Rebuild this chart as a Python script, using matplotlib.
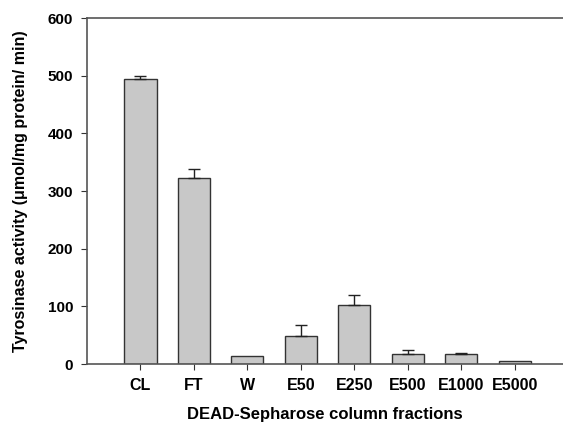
# bar chart of tyrosinase activity across DEAE-Sepharose column fractions
import matplotlib.pyplot as plt
import numpy as np

fractions = ["CL", "FT", "W", "E50", "E250", "E500", "E1000", "E5000"]
activity = [495, 323, 14, 49, 102, 17, 17, 5]
error_up = [4, 16, 0, 19, 18, 8, 1.5, 0]

plt.rcParams['font.family'] = ['Liberation Sans', 'DejaVu Sans']
plt.rcParams['font.weight'] = 'bold'

fig = plt.figure(figsize=(5.63, 4.24), dpi=100)
ax = fig.add_axes([0.1545, 0.1415, 0.8455, 0.816])

x = np.arange(1, len(fractions) + 1)
ax.bar(x, activity, width=0.6, color="#c8c8c8", edgecolor="#333333", linewidth=1.0, zorder=2)

# only the bars that have an error value get an (upper) error bar
err = np.array(error_up)
has_err = err > 0
ax.errorbar(x[has_err], np.array(activity)[has_err], yerr=[np.zeros(has_err.sum()), err[has_err]],
            fmt="none", ecolor="#222222", elinewidth=1.0, capsize=4, capthick=1.0, zorder=3)

# axes range: the right side of the box is cut off in the original
ax.set_xlim(0, 8.9)
ax.set_ylim(0, 600)
ax.set_xticks(x)
ax.set_xticklabels(fractions, fontsize=11.5, fontweight="bold")
ax.set_yticks(np.arange(0, 601, 100))
ax.tick_params(axis="y", labelsize=11, direction="out", length=4, color="#333333", pad=6)
ax.tick_params(axis="x", direction="out", length=4, color="#333333", pad=6)
for lbl in ax.get_yticklabels():
    lbl.set_fontweight("bold")

ax.spines["right"].set_visible(False)
for side in ["left", "top", "bottom"]:
    ax.spines[side].set_color("#555555")
    ax.spines[side].set_linewidth(1.2)

ax.set_xlabel("DEAD-Sepharose column fractions", fontsize=12, fontweight="bold", labelpad=10)
ax.set_ylabel("Tyrosinase activity (\u03bcmol/mg protein/ min)", fontsize=11.5, fontweight="bold", labelpad=14)

fig.savefig("out.png", dpi=100)
